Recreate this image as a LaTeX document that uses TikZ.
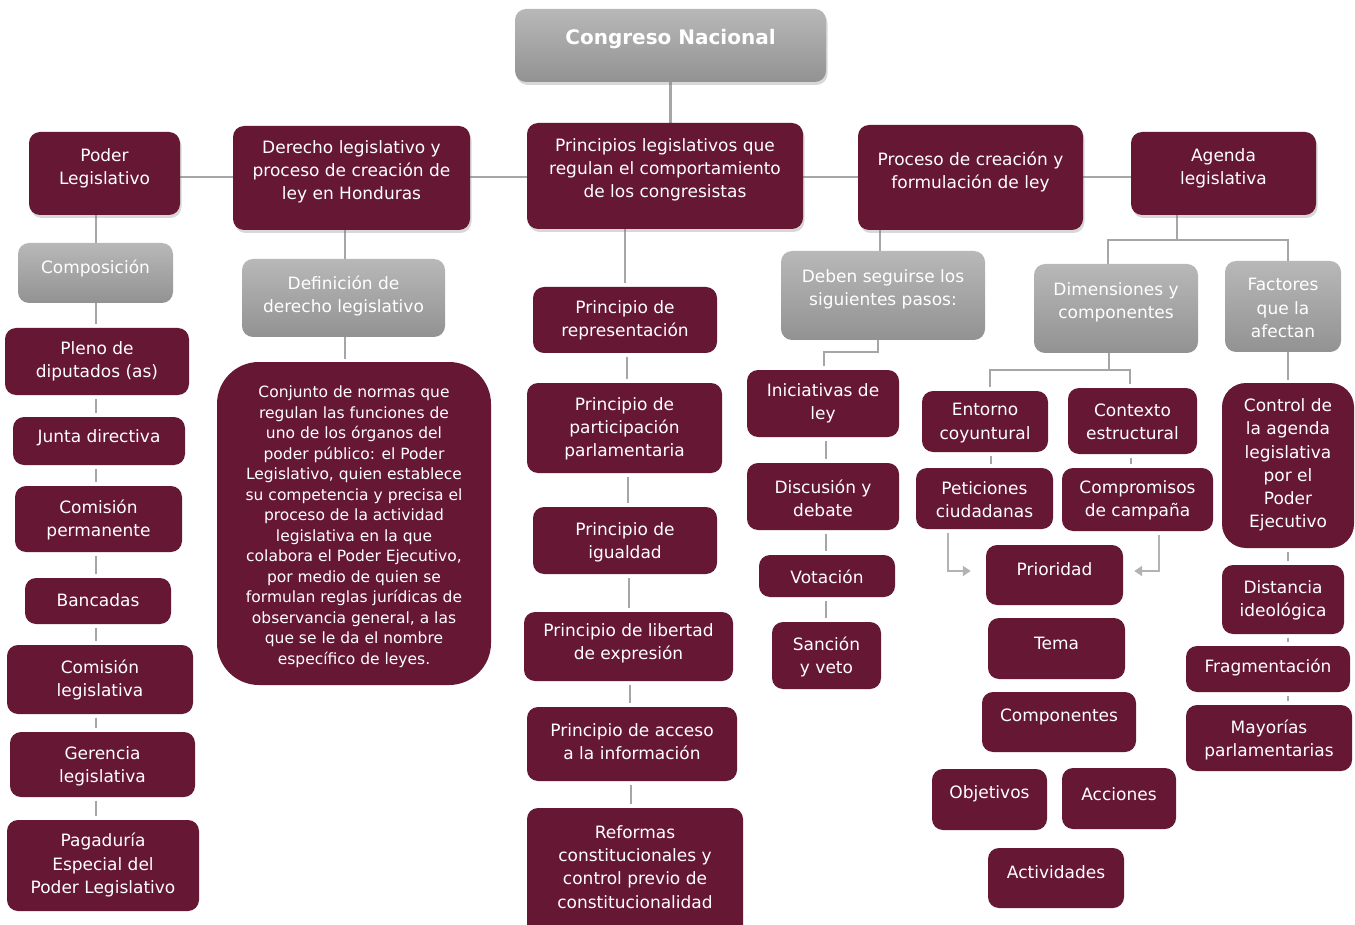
\documentclass[tikz,border=0pt]{standalone}
\usepackage{fontspec}
\setmainfont{DejaVu Sans}
\usetikzlibrary{shadows,arrows.meta}
\pgfdeclarelayer{background}
\pgfsetlayers{background,main}
\definecolor{maroon}{RGB}{102,23,51}
\definecolor{gtop}{RGB}{184,184,184}
\definecolor{gbot}{RGB}{146,146,146}
\definecolor{lnc}{RGB}{166,166,166}
\tikzset{
  mbox/.style={fill=maroon, rounded corners=11pt, inner sep=0pt},
  gbox/.style={top color=gtop, bottom color=gbot, rounded corners=11pt, inner sep=0pt},
  shd/.style={drop shadow={opacity=0.3, shadow xshift=1.5pt, shadow yshift=-3pt}},
  txt/.style={text=white, align=center, font=\fontsize{17}{23.3}\selectfont, inner sep=0pt, yshift=-2pt},
  ptxt/.style={text=white, align=center, font=\fontsize{15.5}{20.5}\selectfont, inner sep=0pt, yshift=-1.5pt},
  conn/.style={draw=lnc, line width=2.5pt},
  gap/.style={conn, shorten <=3.5pt, shorten >=3.5pt},
  arr/.style={draw=lnc!85, line width=2.5pt, -{Triangle[length=8pt,width=10pt]}},
}
% #1 style, #2 name, #3 x1, #4 y1, #5 x2, #6 y2, #7 text y, #8 text
\newcommand\BX[8]{%
  \pgfmathsetmacro\myBW{#5-#3}\pgfmathsetmacro\myBH{#6-#4}%
  \pgfmathsetmacro\myCX{(#3+#5)/2}\pgfmathsetmacro\myCY{(#4+#6)/2}%
  \node[#1, minimum width=\myBW pt, minimum height=\myBH pt] (#2) at (\myCX,\myCY) {};%
  \node[txt] (#2-t) at (\myCX,#7) {#8};}
\begin{document}
\begin{tikzpicture}[x=1pt,y=-1pt]
\useasboundingbox (0,0) rectangle (1355,925);

% level 0
\node[gbox, shd, minimum width=311pt, minimum height=73pt] (congreso) at (670.5,45.5) {};
\node[txt, font=\fontsize{20}{24}\selectfont\bfseries] (congreso-t) at (670.5,37) {Congreso Nacional};

% level 1
\BX{mbox,shd}{poder}{29}{132}{180}{215}{166}{Poder\\Legislativo}
\BX{mbox,shd}{derecho}{233}{126}{470}{230}{170}{Derecho legislativo y\\proceso de creación de\\ley en Honduras}
\BX{mbox,shd}{princ}{527}{123}{803}{229}{168}{Principios legislativos que\\regulan el comportamiento\\de los congresistas}
\BX{mbox,shd}{proceso}{858}{125}{1083}{230}{170}{Proceso de creación y\\formulación de ley}
\BX{mbox,shd}{agenda}{1131}{132}{1316}{215}{166}{Agenda\\legislativa}

% column 1
\BX{gbox}{comp}{18}{243}{173}{303}{266}{Composición}
\BX{mbox}{pleno}{5}{328}{189}{395}{359}{Pleno de\\diputados (as)}
\BX{mbox}{junta}{13}{417}{185}{465}{436}{Junta directiva}
\BX{mbox}{cperm}{15}{486}{182}{552}{518}{Comisión\\permanente}
\BX{mbox}{banc}{25}{578}{171}{624}{598}{Bancadas}
\BX{mbox}{cleg}{7}{645}{193}{714}{678}{Comisión\\legislativa}
\BX{mbox}{geren}{10}{732}{195}{797}{764}{Gerencia\\legislativa}
\BX{mbox}{pagad}{7}{820}{199}{911}{863}{Pagaduría\\Especial del\\Poder Legislativo}

% column 2
\BX{gbox}{defn}{242}{259}{445}{337}{294}{Definición de\\derecho legislativo}
\node[mbox, rounded corners=42pt, minimum width=274pt, minimum height=323pt] (conj) at (354,523.5) {};
\node[ptxt] (conj-t) at (354,525) {Conjunto de normas que\\regulan las funciones de\\uno de los órganos del\\poder público: el Poder\\Legislativo, quien establece\\su competencia y precisa el\\proceso de la actividad\\legislativa en la que\\colabora el Poder Ejecutivo,\\por medio de quien se\\formulan reglas jurídicas de\\observancia general, a las\\que se le da el nombre\\específico de leyes.};

% column 3
\BX{mbox}{prep}{533}{287}{717}{353}{318}{Principio de\\representación}
\BX{mbox}{ppart}{527}{383}{722}{473}{427}{Principio de\\participación\\parlamentaria}
\BX{mbox}{pigual}{533}{507}{717}{574}{540}{Principio de\\igualdad}
\BX{mbox}{plib}{524}{612}{733}{681}{641}{Principio de libertad\\de expresión}
\BX{mbox}{pacc}{527}{707}{737}{781}{740}{Principio de acceso\\a la información}
\BX{mbox}{pref}{527}{808}{743}{945}{865}{Reformas\\constitucionales y\\control previo de\\constitucionalidad}

% column 4
\BX{gbox}{deben}{781}{251}{985}{340}{287}{Deben seguirse los\\siguientes pasos:}
\BX{mbox}{inic}{747}{370}{899}{437}{401}{Iniciativas de\\ley}
\BX{mbox}{disc}{747}{463}{899}{530}{496}{Discusión y\\debate}
\BX{mbox}{vot}{759}{555}{895}{597}{575}{Votación}
\BX{mbox}{sanc}{772}{622}{881}{689}{655}{Sanción\\y veto}

% column 5
\BX{gbox}{dims}{1034}{264}{1198}{353}{300}{Dimensiones y\\componentes}
\BX{mbox}{entorno}{922}{391}{1048}{452}{421}{Entorno\\coyuntural}
\BX{mbox}{contexto}{1068}{388}{1197}{454}{420}{Contexto\\estructural}
\BX{mbox}{petic}{916}{468}{1053}{529}{498}{Peticiones\\ciudadanas}
\BX{mbox}{compro}{1062}{468}{1213}{531}{498}{Compromisos\\de campaña}
\BX{mbox}{prio}{986}{545}{1123}{605}{567}{Prioridad}
\BX{mbox}{tema}{988}{618}{1125}{679}{641}{Tema}
\BX{mbox}{compon}{982}{692}{1136}{752}{715}{Componentes}
\BX{mbox}{obj}{932}{769}{1047}{830}{792}{Objetivos}
\BX{mbox}{acc}{1062}{768}{1176}{829}{792}{Acciones}
\BX{mbox}{activ}{988}{848}{1124}{908}{870}{Actividades}

% column 6
\BX{gbox}{fact}{1225}{261}{1341}{352}{306}{Factores\\que la\\afectan}
\node[mbox, rounded corners=24pt, minimum width=132pt, minimum height=165pt] (ctrl) at (1288,465.5) {};
\node[txt] (ctrl-t) at (1288,463) {Control de\\la agenda\\legislativa\\por el\\Poder\\Ejecutivo};
\BX{mbox}{dist}{1222}{565}{1344}{634}{598}{Distancia\\ideológica}
\BX{mbox}{frag}{1186}{646}{1350}{692}{665}{Fragmentación}
\BX{mbox}{mayor}{1186}{705}{1352}{771}{738}{Mayorías\\parlamentarias}

% connectors
\begin{pgfonlayer}{background}
\fill[white] (0,0) rectangle (1355,925);
\coordinate (hl) at (0,177);
\draw[conn] (poder.east |- hl) -- (derecho.west |- hl);
\draw[conn] (derecho.east |- hl) -- (princ.west |- hl);
\draw[conn] (princ.east |- hl) -- (proceso.west |- hl);
\draw[conn] (proceso.east |- hl) -- (agenda.west |- hl);
\draw[conn] (congreso.south) -- (congreso.south |- princ.north);

% col 1
\draw[conn] (poder.south -| 96,0) -- (comp.north -| 96,0);
\draw[conn, shorten >=4pt] (comp.south -| 96,0) -- (pleno.north -| 96,0);
\draw[gap] (pleno.south -| 96,0) -- (junta.north -| 96,0);
\draw[gap] (junta.south -| 96,0) -- (cperm.north -| 96,0);
\draw[gap] (cperm.south -| 96,0) -- (banc.north -| 96,0);
\draw[gap] (banc.south -| 96,0) -- (cleg.north -| 96,0);
\draw[gap] (cleg.south -| 96,0) -- (geren.north -| 96,0);
\draw[gap] (geren.south -| 96,0) -- (pagad.north -| 96,0);

% col 2
\draw[conn] (derecho.south -| 345,0) -- (defn.north -| 345,0);
\draw[conn, shorten >=3pt] (defn.south -| 345,0) -- (conj.north -| 345,0);

% col 3
\draw[conn, shorten >=4pt] (princ.south -| 625,0) -- (prep.north -| 625,0);
\draw[gap] (prep.south -| 627,0) -- (ppart.north -| 627,0);
\draw[gap] (ppart.south -| 628,0) -- (pigual.north -| 628,0);
\draw[gap] (pigual.south -| 629,0) -- (plib.north -| 629,0);
\draw[gap] (plib.south -| 630,0) -- (pacc.north -| 630,0);
\draw[gap] (pacc.south -| 631,0) -- (pref.north -| 631,0);

% col 4
\draw[conn] (proceso.south -| 880,0) -- (deben.north -| 880,0);
\draw[conn, shorten >=4pt] (deben.south -| 878,0) -- (878,352) -| (inic.north -| 824,0);
\draw[gap] (inic.south -| 826,0) -- (disc.north -| 826,0);
\draw[gap] (disc.south -| 826,0) -- (vot.north -| 826,0);
\draw[gap] (vot.south -| 826,0) -- (sanc.north -| 826,0);

% col 5/6 top
\draw[conn] (agenda.south -| 1177,0) -- (1177,240);
\draw[conn] (dims.north -| 1108,0) -- (1108,240) -- (1288,240) -- (fact.north -| 1288,0);
\draw[conn] (dims.south -| 1109,0) -- (1109,370);
\draw[conn, shorten <=4pt, shorten >=4pt] (entorno.north -| 990,0) -- (990,370) -- (1130,370) -- (contexto.north -| 1130,0);
\draw[gap] (entorno.south -| 991,0) -- (petic.north -| 991,0);
\draw[gap] (contexto.south -| 1131,0) -- (compro.north -| 1131,0);
\draw[arr, shorten <=4pt, shorten >=15pt] (petic.south -| 948,0) -- (948,571) -- (prio.west |- 0,571);
\draw[arr, shorten <=4pt, shorten >=11pt] (compro.south -| 1159,0) -- (1159,571) -- (prio.east |- 0,571);

% col 6
\draw[conn, shorten >=3pt] (fact.south -| 1288,0) -- (ctrl.north -| 1288,0);
\draw[gap] (ctrl.south -| 1288,0) -- (dist.north -| 1288,0);
\draw[gap] (dist.south -| 1288,0) -- (frag.north -| 1288,0);
\draw[gap] (frag.south -| 1288,0) -- (mayor.north -| 1288,0);
\end{pgfonlayer}
\end{tikzpicture}
\end{document}
